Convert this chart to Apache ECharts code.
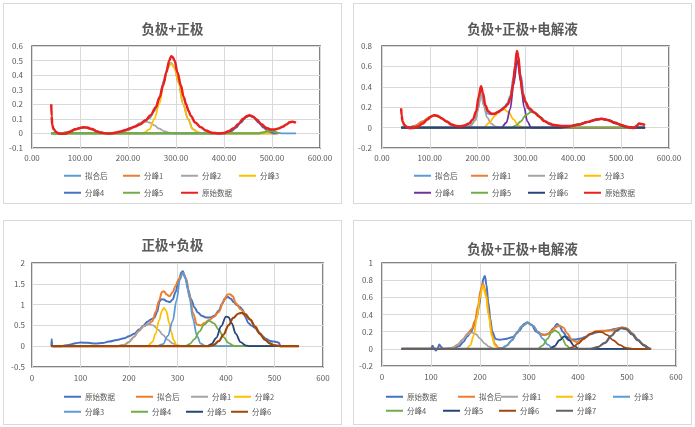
<!DOCTYPE html>
<html><head><meta charset="utf-8">
<script src="https://cdn.jsdelivr.net/npm/echarts/dist/echarts.min.js"></script>
<style>
html,body{margin:0;padding:0;background:#fff;width:695px;height:427px;overflow:hidden;}
.card{position:absolute;border:1px solid #d9d9d9;box-sizing:border-box;background:#fff;}
</style></head>
<body>
<div id="c1" class="card" style="left:3px;top:3px;width:339px;height:201px"></div>
<div id="c2" class="card" style="left:353px;top:3px;width:339px;height:201px"></div>
<div id="c3" class="card" style="left:3px;top:220px;width:339px;height:205px"></div>
<div id="c4" class="card" style="left:353px;top:220px;width:339px;height:205px"></div>
<script>
// ---------- Panel 1: 负极+正极 ----------
const p1Title = '负极+正极';
const p1Fit = [[40,0],[60,0],[75,0.01],[90,0.028],[108,0.04],[125,0.028],[140,0.01],[155,0],[170,0],[185,0.008],[200,0.022],[212,0.045],[225,0.07],[235,0.089],[245,0.105],[255,0.155],[265,0.233],[275,0.366],[283,0.46],[290,0.484],[297,0.45],[305,0.35],[315,0.2],[325,0.1],[335,0.03],[345,0.007],[355,0],[400,0],[415,0.015],[425,0.04],[435,0.075],[445,0.11],[453,0.122],[462,0.11],[472,0.075],[482,0.047],[492,0.033],[502,0.017],[512,0.004],[522,0],[550,0]];
const p1Pk1 = [[40,0],[60,0],[75,0.01],[90,0.028],[108,0.04],[125,0.028],[140,0.01],[155,0],[512,0]];
const p1Pk2 = [[40,0],[170,0],[185,0.008],[200,0.022],[212,0.045],[225,0.07],[235,0.082],[245,0.075],[255,0.055],[265,0.033],[275,0.016],[285,0.006],[295,0],[512,0]];
const p1Pk3 = [[40,0],[225,0],[235,0.007],[245,0.03],[255,0.1],[265,0.2],[275,0.35],[283,0.45],[290,0.48],[297,0.45],[305,0.35],[315,0.2],[325,0.1],[335,0.03],[345,0.007],[355,0],[512,0]];
const p1Pk4 = [[40,0],[400,0],[415,0.015],[425,0.04],[435,0.075],[445,0.11],[453,0.122],[462,0.11],[472,0.075],[482,0.04],[492,0.015],[505,0],[512,0]];
const p1Pk5 = [[40,0],[470,0],[482,0.007],[493,0.018],[502,0.015],[512,0.004],[515,0]];
const p1Raw = [[40,0.2],[41,0.12],[42,0.06],[45,0.03],[50,0.01],[55,0.0],[60,-0.003],[70,0.0],[80,0.012],[90,0.028],[100,0.038],[108,0.043],[115,0.04],[125,0.03],[135,0.014],[145,0.004],[155,0.0],[165,0.0],[175,0.006],[185,0.014],[195,0.024],[205,0.036],[215,0.048],[225,0.062],[237,0.09],[247,0.125],[258,0.18],[266,0.25],[273,0.33],[280,0.42],[286,0.5],[290,0.53],[293,0.525],[297,0.5],[303,0.42],[310,0.33],[316,0.25],[321,0.2],[326,0.155],[331,0.12],[340,0.075],[352,0.042],[362,0.02],[375,0.005],[388,0.0],[400,0.003],[410,0.015],[420,0.035],[430,0.065],[440,0.1],[448,0.12],[453,0.125],[460,0.117],[468,0.095],[478,0.063],[488,0.038],[497,0.027],[505,0.027],[513,0.033],[522,0.046],[530,0.062],[537,0.077],[542,0.08],[550,0.074]];

// ---------- Panel 2: 负极+正极+电解液 ----------
const p2Title = '负极+正极+电解液';
const p2Fit = [[40,0],[55,0],[70,0.02],[85,0.06],[100,0.105],[110,0.12],[120,0.105],[135,0.06],[150,0.02],[165,0.002],[175,0.008],[185,0.02],[195,0.07],[202,0.2],[207,0.38],[212,0.23],[220,0.14],[228,0.13],[235,0.13],[245,0.165],[255,0.2],[262,0.24],[268,0.31],[275,0.5],[283,0.72],[290,0.52],[297,0.31],[304,0.19],[312,0.155],[322,0.14],[332,0.1],[342,0.06],[352,0.03],[362,0.01],[375,0.002],[390,0.01],[410,0.03],[430,0.055],[450,0.08],[460,0.085],[475,0.07],[490,0.04],[505,0.015],[520,0],[550,0]];
const p2Pk1 = [[40,0],[55,0],[70,0.02],[85,0.06],[100,0.105],[110,0.12],[120,0.105],[135,0.06],[150,0.02],[165,0],[550,0]];
const p2Pk2 = [[40,0],[170,0],[185,0.02],[195,0.07],[202,0.2],[207,0.38],[212,0.22],[220,0.1],[228,0.04],[238,0.01],[248,0],[550,0]];
const p2Pk3 = [[40,0],[212,0],[225,0.05],[235,0.11],[245,0.16],[255,0.18],[265,0.15],[275,0.08],[285,0.02],[295,0],[550,0]];
const p2Pk4 = [[40,0],[250,0],[260,0.05],[268,0.18],[275,0.42],[283,0.66],[290,0.45],[297,0.2],[304,0.06],[312,0],[550,0]];
const p2Pk5 = [[40,0],[270,0],[280,0.02],[290,0.06],[300,0.12],[312,0.155],[322,0.14],[332,0.1],[342,0.06],[352,0.03],[362,0.01],[375,0],[550,0]];
const p2Pk6 = [[40,0],[370,0],[390,0.01],[410,0.03],[430,0.055],[450,0.08],[460,0.085],[475,0.07],[490,0.04],[505,0.015],[520,0],[550,0]];
const p2Raw = [[40,0.19],[41,0.12],[43,0.06],[47,0.025],[52,0.005],[58,-0.006],[65,-0.004],[75,0.01],[85,0.04],[95,0.08],[103,0.11],[109,0.122],[116,0.115],[125,0.09],[135,0.06],[145,0.03],[155,0.016],[163,0.013],[172,0.02],[182,0.04],[190,0.08],[197,0.16],[202,0.3],[207,0.405],[211,0.34],[216,0.22],[222,0.16],[228,0.138],[234,0.135],[242,0.15],[250,0.175],[257,0.2],[263,0.23],[269,0.29],[274,0.42],[278,0.6],[282,0.75],[285,0.7],[289,0.5],[294,0.33],[300,0.25],[308,0.19],[318,0.15],[328,0.11],[339,0.065],[350,0.04],[360,0.025],[375,0.015],[395,0.015],[412,0.03],[430,0.055],[445,0.075],[458,0.087],[470,0.078],[486,0.05],[500,0.025],[514,0.006],[527,-0.004],[533,0.02],[537,0.04],[542,0.035],[550,0.025]];

// ---------- Panel 3: 正极+负极 ----------
const p3Title = '正极+负极';
const p3Raw = [[40,0.0],[40.5,0.17],[41.5,0.02],[43,0],[60,0],[75,0.03],[90,0.07],[100,0.09],[115,0.08],[131,0.065],[145,0.075],[159,0.11],[175,0.15],[190,0.19],[200,0.24],[211,0.3],[221,0.4],[230,0.5],[238,0.59],[246,0.65],[252,0.68],[258,0.82],[263,1.08],[267,1.13],[272,1.12],[278,1.08],[284,1.06],[290,1.12],[296,1.3],[302,1.55],[308,1.77],[311,1.8],[316,1.65],[322,1.35],[328,1.13],[335,0.93],[342,0.81],[350,0.73],[359,0.69],[368,0.69],[376,0.73],[385,0.85],[392,1.02],[398,1.15],[404,1.18],[410,1.14],[416,1.06],[422,0.99],[428,0.95],[434,0.88],[440,0.7],[446,0.56],[452,0.5],[460,0.44],[467,0.34],[474,0.25],[482,0.18],[490,0.13],[498,0.11],[505,0.1],[509,0.08],[512,0.01],[515,0]];
const p3Fit = [[40,0],[175,0],[190,0.03],[200,0.1],[210,0.22],[220,0.36],[230,0.48],[240,0.53],[248,0.6],[255,0.82],[262,1.1],[268,1.3],[272,1.32],[278,1.24],[284,1.2],[290,1.3],[296,1.45],[302,1.6],[308,1.72],[312,1.75],[318,1.62],[325,1.2],[332,0.8],[340,0.52],[348,0.5],[355,0.55],[365,0.63],[375,0.7],[385,0.82],[395,1.08],[403,1.24],[408,1.25],[414,1.2],[420,1.04],[430,0.89],[440,0.78],[450,0.64],[460,0.47],[470,0.3],[480,0.16],[490,0.07],[500,0.02],[512,0],[550,0]];
const p3Pk1 = [[40,0],[175,0],[190,0.03],[200,0.1],[210,0.22],[220,0.36],[230,0.48],[240,0.53],[250,0.5],[260,0.4],[270,0.27],[280,0.15],[290,0.07],[300,0.02],[312,0],[550,0]];
const p3Pk2 = [[40,0],[238,0],[248,0.1],[255,0.3],[262,0.62],[268,0.85],[272,0.92],[277,0.85],[283,0.55],[287,0.35],[292,0.15],[298,0.03],[305,0],[550,0]];
const p3Pk3 = [[40,0],[258,0],[270,0.05],[280,0.25],[290,0.6],[298,1.1],[305,1.6],[311,1.77],[318,1.6],[325,1.15],[332,0.65],[340,0.25],[348,0.06],[358,0],[550,0]];
const p3Pk4 = [[40,0],[315,0],[325,0.05],[335,0.17],[345,0.35],[355,0.52],[365,0.61],[375,0.55],[385,0.4],[395,0.22],[405,0.08],[415,0.015],[425,0],[550,0]];
const p3Pk5 = [[40,0],[360,0],[370,0.05],[380,0.2],[390,0.48],[400,0.71],[405,0.7],[412,0.55],[420,0.3],[430,0.1],[440,0.02],[450,0],[550,0]];
const p3Pk6 = [[40,0],[365,0],[375,0.03],[385,0.12],[395,0.28],[405,0.5],[415,0.68],[425,0.78],[432,0.8],[440,0.76],[450,0.64],[460,0.47],[470,0.3],[480,0.16],[490,0.07],[500,0.02],[512,0],[550,0]];

// ---------- Panel 4: 负极+正极+电解液 ----------
const p4Title = '负极+正极+电解液';
const p4Raw = [[40,0],[100,0],[103,0.035],[107,0.0],[110,-0.02],[113,0.0],[117,0.05],[121,0.02],[125,0],[135,0.003],[145,0.01],[157,0.03],[166,0.08],[174,0.145],[182,0.2],[188,0.27],[194,0.38],[198,0.5],[203,0.7],[207,0.82],[210,0.85],[213,0.75],[217,0.54],[221,0.35],[225,0.2],[232,0.115],[240,0.105],[252,0.115],[266,0.135],[280,0.21],[290,0.29],[297,0.31],[305,0.28],[315,0.2],[324,0.17],[333,0.165],[341,0.18],[350,0.24],[357,0.29],[362,0.27],[369,0.2],[377,0.14],[386,0.11],[396,0.11],[406,0.12],[416,0.14],[426,0.17],[437,0.19],[447,0.2],[457,0.21],[467,0.22],[478,0.235],[488,0.245],[495,0.245],[501,0.23],[511,0.18],[522,0.11],[533,0.05],[541,0.015],[546,0.0]];
const p4Fit = [[40,0],[135,0],[145,0.015],[155,0.05],[165,0.11],[175,0.18],[183,0.23],[190,0.33],[196,0.5],[201,0.68],[206,0.76],[212,0.66],[218,0.41],[224,0.18],[230,0.06],[238,0.01],[245,0.01],[255,0.04],[265,0.1],[275,0.18],[285,0.26],[297,0.3],[308,0.27],[318,0.2],[328,0.16],[338,0.17],[346,0.21],[354,0.25],[362,0.27],[370,0.25],[378,0.18],[388,0.1],[398,0.08],[410,0.11],[425,0.175],[437,0.205],[448,0.21],[460,0.21],[472,0.215],[480,0.23],[490,0.25],[500,0.235],[510,0.175],[522,0.1],[535,0.04],[548,0],[550,0]];
const p4Pk1 = [[40,0],[135,0],[145,0.015],[155,0.05],[165,0.11],[175,0.17],[183,0.19],[192,0.17],[200,0.12],[210,0.06],[218,0.025],[228,0],[548,0]];
const p4Pk2 = [[40,0],[172,0],[180,0.04],[187,0.15],[194,0.37],[200,0.6],[206,0.74],[212,0.62],[218,0.38],[224,0.15],[230,0.04],[238,0],[548,0]];
const p4Pk3 = [[40,0],[235,0],[245,0.01],[255,0.04],[265,0.1],[275,0.18],[285,0.26],[297,0.3],[308,0.27],[318,0.2],[328,0.12],[338,0.05],[348,0.01],[358,0],[548,0]];
const p4Pk4 = [[40,0],[318,0],[328,0.04],[338,0.12],[346,0.19],[353,0.215],[360,0.19],[368,0.12],[376,0.04],[385,0],[548,0]];
const p4Pk5 = [[40,0],[342,0],[352,0.03],[362,0.1],[372,0.145],[382,0.1],[392,0.035],[402,0],[548,0]];
const p4Pk6 = [[40,0],[378,0],[390,0.02],[400,0.06],[412,0.12],[425,0.175],[437,0.2],[448,0.195],[460,0.16],[472,0.1],[485,0.045],[498,0.012],[512,0],[548,0]];
const p4Pk7 = [[40,0],[425,0],[440,0.02],[455,0.07],[468,0.15],[478,0.21],[488,0.24],[498,0.23],[510,0.17],[522,0.1],[535,0.04],[546,0],[548,0]];

// ---------- tick labels ----------
const xTicks = [0, 100, 200, 300, 400, 500, 600];

const FONT = '"Noto Sans CJK SC", "Noto Sans", sans-serif';
const TXT = '#595959';

function leg(name, left, top) {
  return {
    data: [name], left: left, top: top, padding: 0, itemGap: 0,
    itemWidth: 17, itemHeight: 2, icon: 'rect', selectedMode: false,
    textStyle: { fontSize: 7.5, color: TXT, fontFamily: FONT, padding: [0,0,0,-1] }
  };
}

function build(el, cfg) {
  const chart = echarts.init(document.getElementById(el), null, { renderer: 'canvas' });
  chart.setOption({
    animation: false,
    textStyle: { fontFamily: FONT },
    title: {
      text: cfg.title, left: 'center', top: cfg.titleTop,
      textStyle: { fontSize: 13.5, fontWeight: 'bold', color: TXT, fontFamily: FONT }
    },
    grid: Object.assign({ show: true, borderColor: '#5a5a5a', borderWidth: 1.5, backgroundColor: 'transparent' }, cfg.grid),
    xAxis: {
      type: 'value', min: xTicks[0], max: xTicks[xTicks.length - 1], interval: xTicks[1] - xTicks[0],
      axisLine: { show: false }, axisTick: { show: false },
      splitLine: { show: true, lineStyle: { color: '#d9d9d9', width: 1 } },
      axisLabel: { fontSize: 8, color: TXT, margin: cfg.xMargin, fontFamily: FONT,
        formatter: v => cfg.xFixed ? v.toFixed(2) : String(v) }
    },
    yAxis: {
      type: 'value', min: cfg.yMin, max: cfg.yMax, interval: cfg.yStep,
      axisLine: { show: false }, axisTick: { show: false },
      splitLine: { show: true, lineStyle: { color: '#d9d9d9', width: 1 } },
      axisLabel: { fontSize: 8, color: TXT, margin: cfg.yMargin, fontFamily: FONT,
        formatter: v => String(parseFloat(v.toFixed(2))) }
    },
    legend: cfg.legends.map(l => leg(l[0], l[1], l[2])),
    series: cfg.series.map(s => ({
      name: s.name, type: 'line', data: s.data, symbol: 'none',
      smooth: 0.35, smoothMonotone: 'x',
      lineStyle: { color: s.color, width: s.width || 1.8 },
      itemStyle: { color: s.color }
    }))
  });
}

build('c1', {
  title: p1Title, titleTop: 13, xFixed: true, xMargin: 6, yMargin: 9,
  grid: { left: 28, top: 42, width: 288, height: 102 },
  yMin: -0.1, yMax: 0.6, yStep: 0.1,
  legends: [['拟合后',60,168],['分峰1',119,168],['分峰2',177,168],['分峰3',235,168],
            ['分峰4',60,185],['分峰5',119,185],['原始数据',177,185]],
  series: [
    { name: '拟合后', data: p1Fit, color: '#5B9BD5' },
    { name: '分峰1', data: p1Pk1, color: '#ED7D31' },
    { name: '分峰2', data: p1Pk2, color: '#A5A5A5' },
    { name: '分峰3', data: p1Pk3, color: '#FFC000' },
    { name: '分峰4', data: p1Pk4, color: '#4472C4' },
    { name: '分峰5', data: p1Pk5, color: '#70AD47', width: 2.2 },
    { name: '原始数据', data: p1Raw, color: '#E8201E', width: 2.5 }
  ]
});

build('c2', {
  title: p2Title, titleTop: 13, xFixed: true, xMargin: 6, yMargin: 10,
  grid: { left: 28, top: 42, width: 287, height: 102 },
  yMin: -0.2, yMax: 0.8, yStep: 0.2,
  legends: [['拟合后',60,168],['分峰1',117,168],['分峰2',174,168],['分峰3',230,168],
            ['分峰4',60,185],['分峰5',117,185],['分峰6',174,185],['原始数据',230,185]],
  series: [
    { name: '拟合后', data: p2Fit, color: '#5B9BD5' },
    { name: '分峰1', data: p2Pk1, color: '#ED7D31' },
    { name: '分峰2', data: p2Pk2, color: '#A5A5A5' },
    { name: '分峰3', data: p2Pk3, color: '#FFC000' },
    { name: '分峰4', data: p2Pk4, color: '#7030A0' },
    { name: '分峰5', data: p2Pk5, color: '#70AD47' },
    { name: '分峰6', data: p2Pk6, color: '#264478', width: 2.2 },
    { name: '原始数据', data: p2Raw, color: '#E8201E', width: 2.5 }
  ]
});

build('c3', {
  title: p3Title, titleTop: 12, xFixed: false, xMargin: 7, yMargin: 7,
  grid: { left: 28, top: 42, width: 291, height: 104 },
  yMin: -0.5, yMax: 2, yStep: 0.5,
  legends: [['原始数据',60,172],['拟合后',132,172],['分峰1',187,172],['分峰2',230,172],
            ['分峰3',60,187],['分峰4',127,187],['分峰5',182,187],['分峰6',227,187]],
  series: [
    { name: '原始数据', data: p3Raw, color: '#4472C4', width: 2 },
    { name: '拟合后', data: p3Fit, color: '#ED7D31', width: 2 },
    { name: '分峰1', data: p3Pk1, color: '#A5A5A5' },
    { name: '分峰2', data: p3Pk2, color: '#FFC000' },
    { name: '分峰3', data: p3Pk3, color: '#5B9BD5' },
    { name: '分峰4', data: p3Pk4, color: '#70AD47' },
    { name: '分峰5', data: p3Pk5, color: '#264478' },
    { name: '分峰6', data: p3Pk6, color: '#9E480E', width: 2.2 }
  ]
});

build('c4', {
  title: p4Title, titleTop: 16, xFixed: false, xMargin: 7, yMargin: 9,
  grid: { left: 28, top: 42, width: 294, height: 103 },
  yMin: -0.2, yMax: 1, yStep: 0.2,
  legends: [['原始数据',32,172],['拟合后',104,172],['分峰1',147,172],['分峰2',202,172],['分峰3',259,172],
            ['分峰4',32,186],['分峰5',89,186],['分峰6',145,186],['分峰7',202,186]],
  series: [
    { name: '原始数据', data: p4Raw, color: '#4472C4', width: 2 },
    { name: '拟合后', data: p4Fit, color: '#ED7D31', width: 2 },
    { name: '分峰1', data: p4Pk1, color: '#A5A5A5' },
    { name: '分峰2', data: p4Pk2, color: '#FFC000' },
    { name: '分峰3', data: p4Pk3, color: '#5B9BD5' },
    { name: '分峰4', data: p4Pk4, color: '#70AD47' },
    { name: '分峰5', data: p4Pk5, color: '#264478' },
    { name: '分峰6', data: p4Pk6, color: '#9E480E' },
    { name: '分峰7', data: p4Pk7, color: '#636363', width: 2.2 }
  ]
});
</script>
</body></html>
